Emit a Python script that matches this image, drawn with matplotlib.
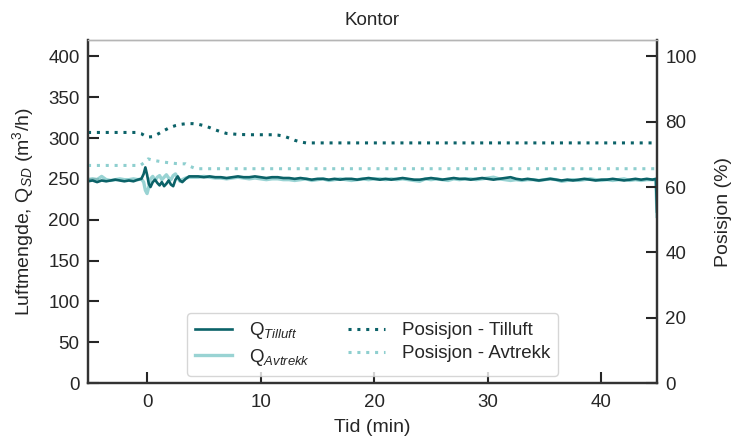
import numpy as np
import matplotlib
matplotlib.use("Agg")
import matplotlib.pyplot as plt

plt.rcParams['font.family'] = ['Liberation Sans', 'DejaVu Sans']
plt.rcParams['mathtext.fontset'] = 'custom'
plt.rcParams['mathtext.rm'] = 'Liberation Sans'
plt.rcParams['mathtext.it'] = 'Liberation Sans:italic'
plt.rcParams['text.color'] = '#262626'
plt.rcParams['axes.labelcolor'] = '#262626'
plt.rcParams['xtick.color'] = '#262626'
plt.rcParams['ytick.color'] = '#262626'

# --- data ---
t_pre = [-5.2, -4.8, -4.4, -4.0, -3.6, -3.2, -2.8, -2.4, -2.0, -1.6, -1.2, -0.8,
         -0.5, -0.3, -0.15, 0.0, 0.15, 0.3, 0.5, 0.7, 0.9, 1.1, 1.3, 1.5, 1.7,
         1.9, 2.1, 2.3, 2.5, 2.7, 2.9, 3.1, 3.4, 3.7, 4.0]
t_post = list(np.arange(4.5, 44.51, 0.5)) + [44.8, 44.9]
t_flow = t_pre + t_post

q_tilluft = [247, 248, 246, 248, 247, 248, 249, 248, 247, 248, 247, 249,
             250, 256, 264, 255, 244, 240, 246, 249, 245, 242, 246, 241, 244,
             248, 243, 241, 249, 253, 248, 246, 250, 253, 253,
             253, 252, 253, 252, 252, 251, 252, 253, 252, 252, 253, 252, 251, 252, 252, 251,
             251, 250, 251, 250, 249, 250, 250, 249, 250, 249, 250, 250, 249, 250, 251, 250,
             249, 250, 249, 250, 251, 250, 249, 249, 250, 251, 250, 249, 250, 251, 250, 250,
             249, 250, 251, 250, 249, 250, 251, 252, 250, 249, 250, 249, 248, 249, 250, 249,
             248, 249, 248, 249, 250, 249, 248, 249, 249, 250, 249, 248, 249, 250, 249, 250,
             249, 250, 210]

q_avtrekk = [249, 250, 249, 253, 249, 248, 249, 250, 249, 249, 250, 249,
             250, 246, 236, 232, 240, 250, 253, 248, 252, 254, 249, 252, 255,
             251, 249, 254, 256, 251, 247, 249, 251, 252, 252,
             252, 253, 252, 251, 251, 250, 251, 252, 251, 250, 251, 250, 249, 250, 250, 249,
             249, 248, 249, 250, 248, 249, 250, 248, 249, 250, 249, 248, 249, 250, 249, 250,
             250, 249, 250, 249, 250, 249, 248, 247, 250, 249, 250, 249, 248, 250, 249, 250,
             250, 249, 250, 251, 252, 250, 249, 248, 249, 248, 249, 249, 248, 249, 250, 249,
             247, 248, 249, 248, 249, 250, 249, 248, 249, 248, 249, 250, 248, 249, 248, 249,
             249, 249, 204]

t_pos_tilluft = [-5.2, -1.0, -0.5, 0.0, 0.5, 1.0, 1.5, 2.0, 2.5, 3.0, 3.5, 4.0, 4.5,
                 5.0, 5.5, 6.0, 6.5, 7.0, 8.0, 9.0, 10.0, 11.0, 11.5, 12.0, 12.5,
                 13.0, 13.5, 14.0, 20.0, 30.0, 40.0, 45.0]
pos_tilluft = [76.7, 76.7, 76.3, 75.3, 75.4, 76.3, 77.3, 78.2, 78.8, 79.2, 79.4, 79.4,
               79.2, 78.8, 78.2, 77.5, 76.9, 76.4, 76.1, 76.0, 76.0, 76.0, 75.9, 75.6,
               75.0, 74.3, 73.8, 73.5, 73.5, 73.5, 73.5, 73.5]

t_pos_avtrekk = [-5.2, -0.6, -0.2, 0.1, 0.5, 1.0, 1.5, 2.0, 2.5, 3.0, 3.4, 3.8, 4.3,
                 10.0, 20.0, 30.0, 40.0, 45.0]
pos_avtrekk = [66.6, 66.6, 67.6, 68.6, 68.2, 67.9, 67.6, 67.4, 67.2, 67.1, 67.1, 66.3,
               65.6, 65.6, 65.6, 65.6, 65.6, 65.6]

dark = '#0b6268'
light = '#8ecfcf'
dots = (0, (1, 1.9))
fs = 13.5

fig = plt.figure(figsize=(7.31, 4.43), dpi=100)
ax = fig.add_axes([0.1204, 0.1354, 0.7784, 0.7743])
ax2 = ax.twinx()

l1, = ax.plot(t_flow, q_tilluft, color=dark, lw=1.9, label=r'Q$_{Tilluft}$', zorder=3)
l2, = ax.plot(t_flow, q_avtrekk, color=light, lw=2.4, alpha=0.9, label=r'Q$_{Avtrekk}$', zorder=2)
l3, = ax2.plot(t_pos_tilluft, pos_tilluft, color=dark, lw=2.2, linestyle=dots,
               label='Posisjon - Tilluft')
l4, = ax2.plot(t_pos_avtrekk, pos_avtrekk, color=light, lw=2.2, linestyle=dots,
               label='Posisjon - Avtrekk')

ax.set_xlim(-5.2, 44.9)
ax.set_ylim(0, 420)
ax2.set_ylim(0, 105)
ax.set_xticks([0, 10, 20, 30, 40])
ax.set_yticks(np.arange(0, 401, 50))
ax2.set_yticks([0, 20, 40, 60, 80, 100])

for a in (ax, ax2):
    a.tick_params(direction='in', length=8, width=1.5, labelsize=fs, pad=6)
    for s in ('left', 'right', 'bottom'):
        a.spines[s].set_color('#333333')
        a.spines[s].set_linewidth(1.6)
    a.spines['top'].set_color('#b5b5b5')
    a.spines['top'].set_linewidth(1.0)
ax.tick_params(axis='x', pad=8)

ax.set_title('Kontor', fontsize=fs, pad=11)
ax.set_xlabel('Tid (min)', fontsize=fs + 0.5, labelpad=6)
ax.set_ylabel(r'Luftmengde, Q$_{SD}$ (m$^3$/h)', fontsize=fs + 0.5, labelpad=9)
ax2.set_ylabel('Posisjon (%)', fontsize=fs + 0.5, labelpad=13)

leg = ax.legend(handles=[l1, l2, l3, l4], loc='lower center', ncol=2,
                fontsize=fs, frameon=True, fancybox=True, handlelength=2.0,
                handletextpad=0.9, columnspacing=2.0, borderaxespad=0.4,
                labelspacing=0.3)
leg.get_frame().set_edgecolor('#cccccc')

fig.savefig('out.png', dpi=100)
